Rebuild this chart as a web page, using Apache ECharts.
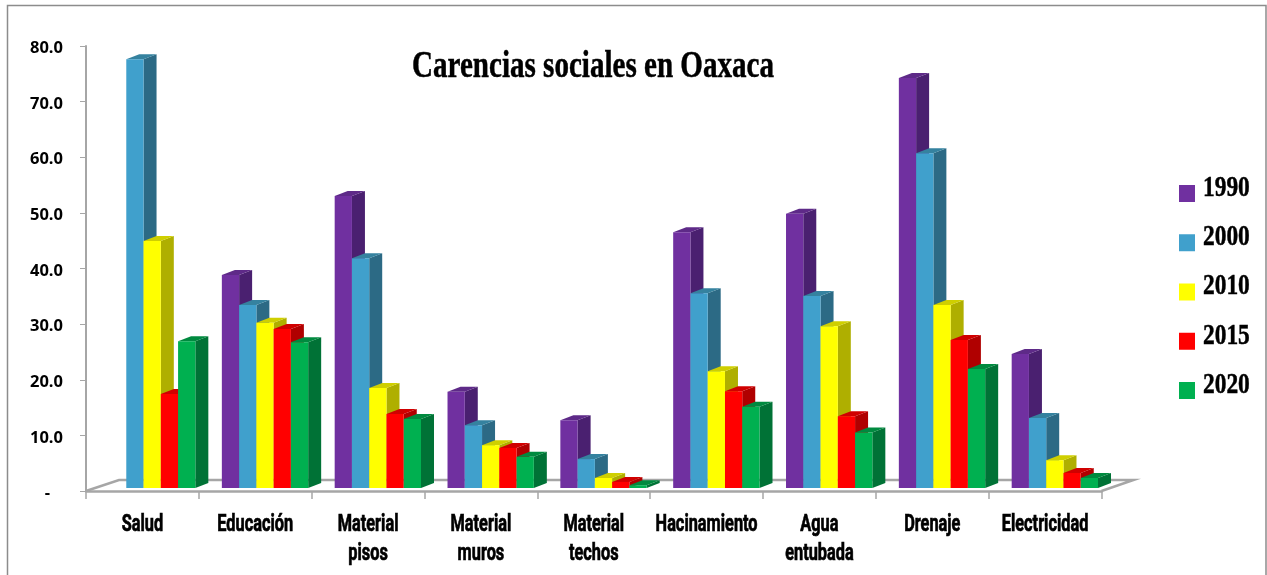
<!DOCTYPE html>
<html>
<head>
<meta charset="utf-8">
<style>
    html, body { margin: 0; padding: 0; background: #fff; }
    #chart { width: 1267px; height: 575px; }
</style>
<script src="https://cdn.jsdelivr.net/npm/echarts@6/dist/echarts.min.js"></script>
</head>
<body>
<div id="chart"></div>
<script>
const categories = ['Salud', 'Educación', 'Material\npisos', 'Material\nmuros', 'Material\ntechos', 'Hacinamiento', 'Agua\nentubada', 'Drenaje', 'Electricidad'];
const years = ['1990', '2000', '2010', '2015', '2020'];
const yTicks = { min: 0, max: 80, interval: 10 };

const values1990 = [null, 38.3, 52.5, 17.3, 12.2, 46.0, 49.3, 73.7, 24.1];
const values2000 = [77.1, 32.9, 41.3, 11.3, 5.2, 35.0, 34.5, 60.2, 12.6];
const values2010 = [44.4, 29.7, 18.0, 7.7, 1.8, 21.0, 29.1, 32.9, 5.0];
const values2015 = [16.9, 28.6, 13.3, 7.2, 1.1, 17.4, 12.9, 26.6, 2.7];
const values2020 = [26.4, 26.2, 12.4, 5.6, 0.5, 14.6, 10.0, 21.4, 1.8];
const seriesValues = [values1990, values2000, values2010, values2015, values2020];

// front, side, top
const colors = [
    ['#7030A0', '#4A2070', '#5E2A88'],
    ['#40A0CC', '#2C6A85', '#35829F'],
    ['#FFFF00', '#AFAF00', '#CFCF00'],
    ['#FF0000', '#B00000', '#D00000'],
    ['#00B050', '#007236', '#008A3F']
];

const DEPTH_X = 13;
const DEPTH_Y = 5;

// bars in one group, a little right of the middle of the category like in the excel 3d chart
function renderBar (seriesIndex) {
    return function (params, api) {
        const value = api.value(1);
        if (value == null || isNaN(value)) {
            return;
        }
        const base = api.coord([api.value(0), 0]);
        const top = api.coord([api.value(0), value]);
        const barWidth = api.size([1, 0])[0] * 0.153;
        const x = base[0] - 33.4 + seriesIndex * barWidth;
        const y0 = base[1] - 3;
        const y1 = top[1] - 3;
        return {
            type: 'group',
            children: [
                {
                    type: 'polygon',
                    shape: { points: [[x + barWidth, y1], [x + barWidth + DEPTH_X, y1 - DEPTH_Y], [x + barWidth + DEPTH_X, y0 - DEPTH_Y], [x + barWidth, y0]] },
                    style: { fill: colors[seriesIndex][1] }
                },
                {
                    type: 'polygon',
                    shape: { points: [[x, y1], [x + DEPTH_X, y1 - DEPTH_Y], [x + barWidth + DEPTH_X, y1 - DEPTH_Y], [x + barWidth, y1]] },
                    style: { fill: colors[seriesIndex][2] }
                },
                {
                    type: 'rect',
                    shape: { x: x, y: y1, width: barWidth, height: y0 - y1 },
                    style: { fill: colors[seriesIndex][0] }
                }
            ]
        };
    };
}

function renderFloor (params, api) {
    const c = params.coordSys;
    const bottom = c.y + c.height;
    return {
        type: 'polyline',
        shape: { points: [[c.x, bottom], [c.x + 33, bottom - 11], [c.x + c.width + 32, bottom - 11], [c.x + c.width, bottom]] },
        style: { fill: null, stroke: '#A6A6A6', lineWidth: 2.5 }
    };
}

// the labels are a tall condensed face in the original, none is installed so squeeze Roboto
function renderCategoryLabel (params, api) {
    const p = api.coord([api.value(0), 0]);
    return {
        type: 'text',
        x: p[0],
        y: p[1] + 20,
        scaleX: 0.71,
        style: {
            text: categories[api.value(0)],
            font: 'bold 23px Roboto',
            lineHeight: 29,
            align: 'center',
            verticalAlign: 'top',
            fill: '#000',
            stroke: '#000',
            lineWidth: 0.7
        }
    };
}

const barSeries = years.map((year, i) => ({
    name: year,
    type: 'custom',
    renderItem: renderBar(i),
    clip: false,
    encode: { x: 0, y: 1 },
    itemStyle: { color: colors[i][0] },
    data: seriesValues[i].map((v, c) => [c, v])
}));

const legendLabels = years.map((year, i) => ({
    type: 'text',
    x: 1203,
    y: 188 + i * 49.25,
    scaleX: 0.78,
    style: { text: year, font: 'bold 30px "Liberation Serif"', verticalAlign: 'middle', fill: '#000', stroke: '#000', lineWidth: 0.5 }
}));

const myChart = echarts.init(document.getElementById('chart'));
myChart.setOption({
    animation: false,
    backgroundColor: '#fff',
    grid: { left: 86, right: 165.5, top: 46, bottom: 84 },
    legend: {
        data: years,
        orient: 'vertical',
        left: 1174,
        top: 180,
        icon: 'rect',
        itemWidth: 16,
        itemHeight: 17,
        itemGap: 32.25,
        formatter: () => ' ',
        textStyle: { fontSize: 10 }
    },
    xAxis: {
        type: 'category',
        data: categories,
        axisLine: { lineStyle: { color: '#A6A6A6', width: 2.5 } },
        axisTick: { show: true, length: 8, lineStyle: { color: '#A6A6A6', width: 1.5 } },
        axisLabel: { show: false }
    },
    yAxis: {
        type: 'value',
        min: yTicks.min,
        max: yTicks.max,
        interval: yTicks.interval,
        splitLine: { show: false },
        axisLine: { show: true, lineStyle: { color: '#A6A6A6', width: 2 } },
        axisTick: { show: true, length: 6, lineStyle: { color: '#A6A6A6', width: 1 } },
        axisLabel: {
            margin: 23,
            formatter: v => '{t|' + (v === 0 ? '-   ' : v.toFixed(1)) + '}',
            rich: {
                t: {
                    padding: [5, 0, 0, 0],
                    fontFamily: 'Open Sans',
                    fontWeight: 'bold',
                    fontSize: 16.5,
                    color: '#000'
                }
            }
        }
    },
    graphic: [
        {
            type: 'rect',
            silent: true,
            shape: { x: 7.5, y: 5.5, width: 1258.5, height: 600 },
            style: { fill: null, stroke: '#8C8C8C', lineWidth: 1.5 }
        },
        {
            type: 'text',
            x: 412,
            y: 48,
            scaleX: 0.765,
            style: { text: 'Carencias sociales en Oaxaca', font: 'bold 38px "Liberation Serif"', fill: '#000', stroke: '#000', lineWidth: 0.5 }
        }
    ].concat(legendLabels),
    series: [{
        type: 'custom',
        name: 'piso',
        renderItem: renderFloor,
        clip: false,
        silent: true,
        z: 1,
        encode: { x: 0, y: 1 },
        data: [[0, 0]]
    }, {
        type: 'custom',
        name: 'etiquetas',
        renderItem: renderCategoryLabel,
        clip: false,
        silent: true,
        encode: { x: 0, y: 1 },
        data: categories.map((c, i) => [i, 0])
    }].concat(barSeries)
});
</script>
</body>
</html>
